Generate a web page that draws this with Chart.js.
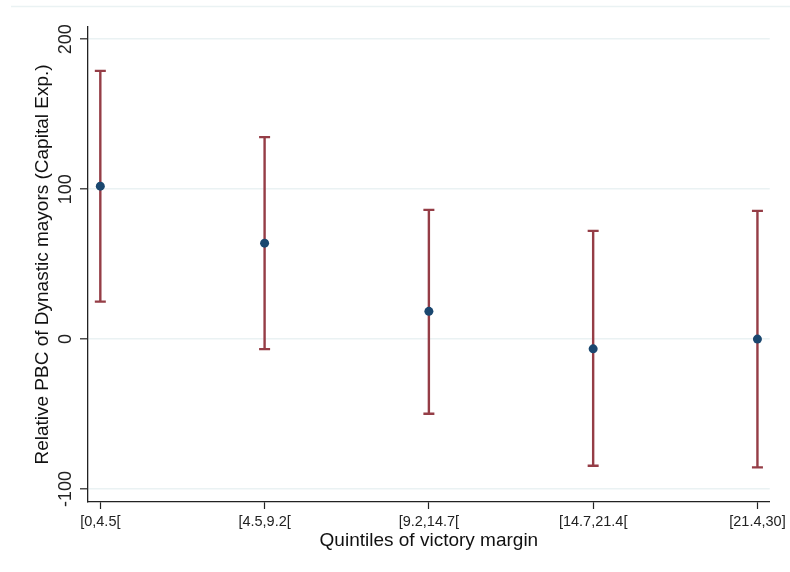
<!DOCTYPE html>
<html>
<head>
<meta charset="utf-8">
<script src="https://cdn.jsdelivr.net/npm/chart.js@4"></script>
<style>
  html, body { margin: 0; padding: 0; background: #ffffff; }
  #wrap { width: 790px; height: 572px; }
</style>
</head>
<body>
<div id="wrap"><canvas id="c" width="790" height="572"></canvas></div>
<script>
// Quintile groups of the victory margin
const categories = ['[0,4.5[', '[4.5,9.2[', '[9.2,14.7[', '[14.7,21.4[', '[21.4,30]'];
// Point estimates and confidence bounds
const estimates = [102, 64, 18.5, -6.5, 0];
const ciLower = [25, -6.7, -49.8, -84.5, -85.6];
const ciUpper = [178.9, 134.7, 86.2, 72.2, 85.5];
// Y axis ticks
const yTicks = [-100, 0, 100, 200];

const FONT = '"Liberation Sans", Arial, sans-serif';
const AXIS = '#222222';
const GRID = '#eaf2f3';
const BAR = '#953d46';
const DOT = '#1a476f';

const frameLine = {
  id: 'frameLine',
  beforeDraw(chart) {
    const ctx = chart.ctx;
    ctx.save();
    ctx.strokeStyle = GRID;
    ctx.lineWidth = 1.5;
    ctx.beginPath();
    ctx.moveTo(11, 6.5);
    ctx.lineTo(790, 6.5);
    ctx.stroke();
    ctx.restore();
  }
};

const errorBars = {
  id: 'errorBars',
  beforeDatasetsDraw(chart) {
    const { ctx, scales: { x, y } } = chart;
    ctx.save();
    ctx.strokeStyle = BAR;
    ctx.lineWidth = 2.4;
    ctx.lineCap = 'butt';
    categories.forEach((_, i) => {
      const px = x.getPixelForValue(i);
      const yl = y.getPixelForValue(ciLower[i]);
      const yu = y.getPixelForValue(ciUpper[i]);
      ctx.beginPath();
      ctx.moveTo(px, yu);
      ctx.lineTo(px, yl);
      ctx.moveTo(px - 5.5, yu);
      ctx.lineTo(px + 5.5, yu);
      ctx.moveTo(px - 5.5, yl);
      ctx.lineTo(px + 5.5, yl);
      ctx.stroke();
    });
    ctx.restore();
  }
};

// Vertical tick labels on the y axis
const yTickLabels = {
  id: 'yTickLabels',
  afterDraw(chart) {
    const { ctx, scales: { y } } = chart;
    ctx.save();
    ctx.fillStyle = AXIS;
    ctx.font = '18px ' + FONT;
    ctx.textAlign = 'center';
    ctx.textBaseline = 'alphabetic';
    yTicks.forEach(v => {
      const py = y.getPixelForValue(v);
      ctx.save();
      ctx.translate(71, py);
      ctx.rotate(-Math.PI / 2);
      ctx.fillText(String(v), 0, 0);
      ctx.restore();
    });
    ctx.restore();
  }
};

new Chart(document.getElementById('c'), {
  type: 'scatter',
  data: {
    datasets: [{
      data: estimates.map((v, i) => ({ x: i, y: v })),
      pointRadius: 4.5,
      pointHoverRadius: 4.5,
      backgroundColor: DOT,
      borderWidth: 0
    }]
  },
  options: {
    responsive: false,
    animation: false,
    events: [],
    layout: { padding: { left: 0, right: 19, top: 27, bottom: 0 } },
    plugins: { legend: { display: false }, tooltip: { enabled: false } },
    scales: {
      x: {
        type: 'linear',
        min: -0.075,
        max: 4.075,
        afterBuildTicks(scale) { scale.ticks = categories.map((_, i) => ({ value: i })); },
        afterFit(scale) { scale.height = 70; },
        grid: { drawOnChartArea: false, drawTicks: true, tickLength: 7, tickColor: AXIS, tickWidth: 1.2 },
        border: { color: AXIS, width: 1.3 },
        ticks: {
          callback: v => categories[v],
          font: { family: FONT, size: 14.5 },
          color: AXIS,
          padding: 4,
          maxRotation: 0,
          minRotation: 0
        },
        title: {
          display: true,
          text: 'Quintiles of victory margin',
          font: { family: FONT, size: 19 },
          color: '#111111',
          padding: { top: 0, bottom: 19.6 }
        }
      },
      y: {
        min: -108.7,
        max: 208.2,
        afterBuildTicks(scale) { scale.ticks = yTicks.map(v => ({ value: v })); },
        afterFit(scale) { scale.width = 88; },
        grid: { color: GRID, lineWidth: 1.6, drawTicks: true, tickLength: 8, tickColor: AXIS, tickWidth: 1.2 },
        border: { color: AXIS, width: 1.3 },
        ticks: { display: false },
        title: {
          display: true,
          text: 'Relative PBC of Dynastic mayors (Capital Exp.)',
          font: { family: FONT, size: 19 },
          color: '#111111',
          padding: { top: 31, bottom: 0 }
        }
      }
    }
  },
  plugins: [frameLine, errorBars, yTickLabels]
});
</script>
</body>
</html>
